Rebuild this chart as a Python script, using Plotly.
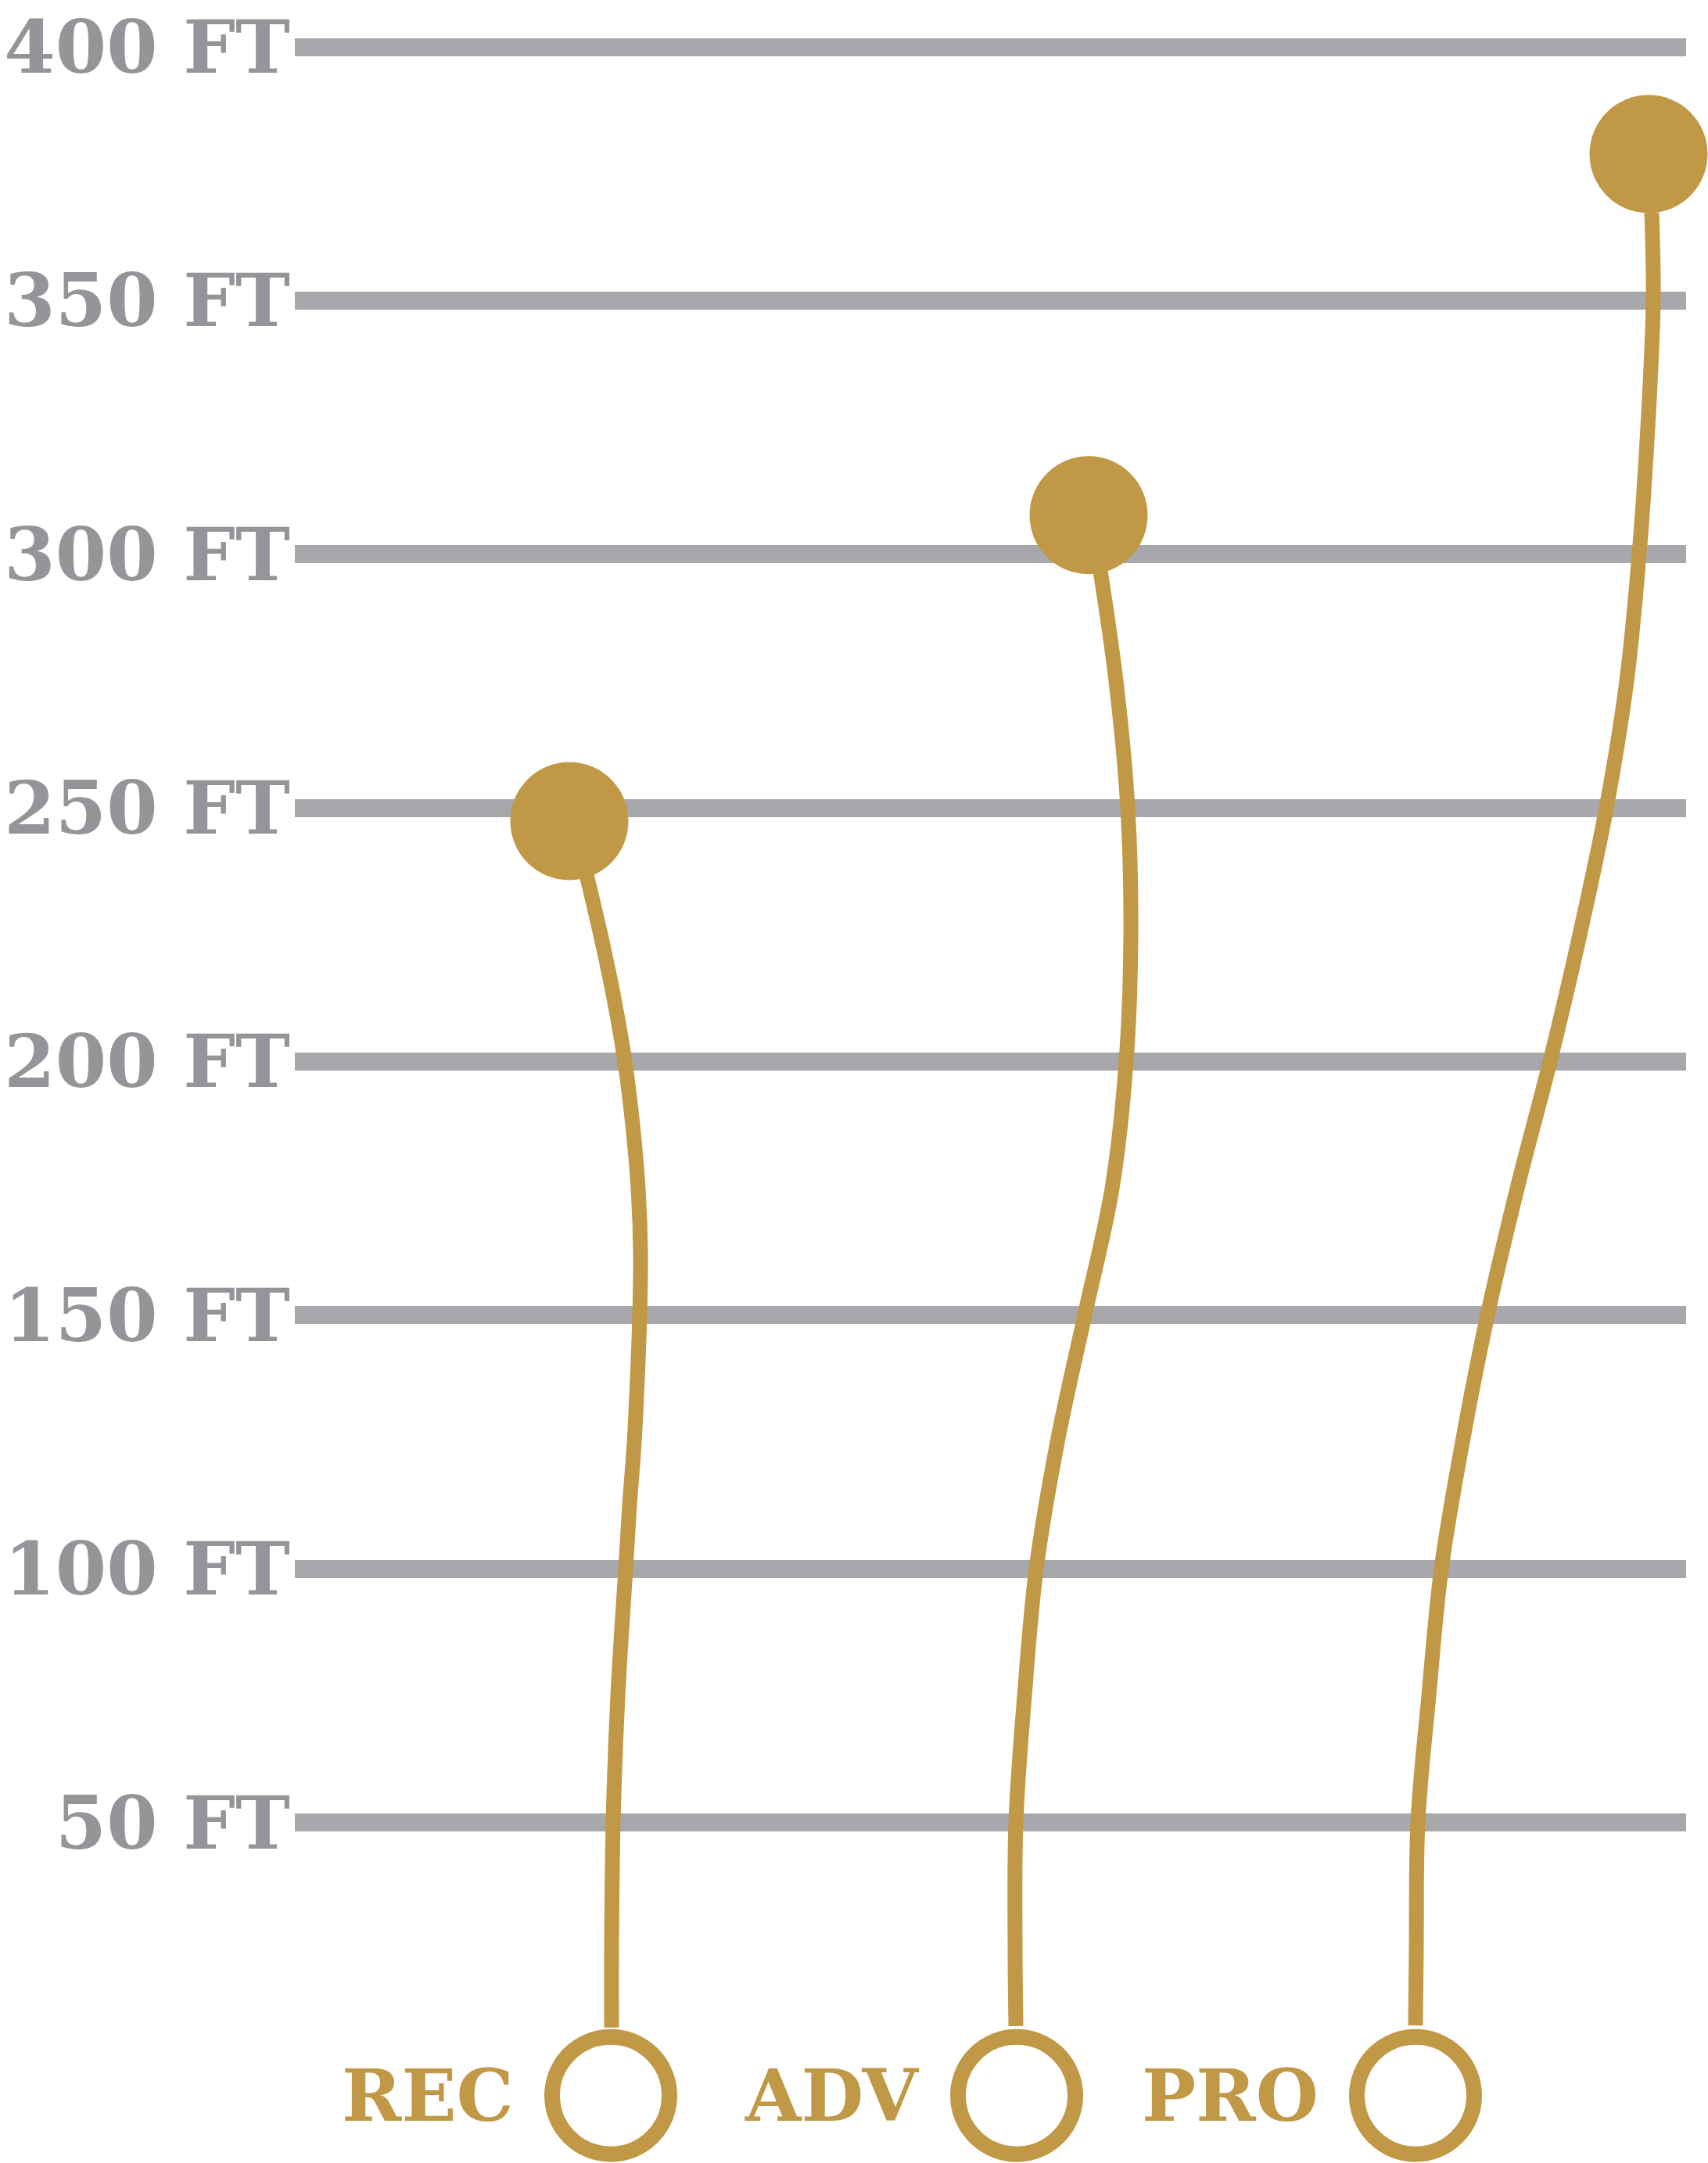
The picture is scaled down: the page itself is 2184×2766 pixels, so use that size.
import plotly.graph_objects as go

# ---- data ----
tick_vals = [50, 100, 150, 200, 250, 300, 350, 400]
tick_text = ["50 FT", "100 FT", "150 FT", "200 FT", "250 FT", "300 FT", "350 FT", "400 FT"]

levels = ["REC", "ADV", "PRO"]
start_x = [781, 1300, 1810]          # horizontal position of the open (start) circles
start_ft = [-3.8, -3.8, -3.8]
peak_x = [728, 1392, 2108]           # horizontal position of the filled (peak) circles
peak_ft = [247.4, 307.7, 378.9]

rec_path_x = [782, 782, 784, 790, 800, 805, 811, 815, 818, 819, 816, 809, 799, 785, 768, 750]
rec_path_ft = [9.6, 25, 50, 75, 100, 112.5, 125, 137.5, 150, 162.5, 175, 187.5, 200, 212.5, 225, 236.8]

adv_path_x = [1299, 1298, 1299, 1310, 1325, 1352, 1387, 1422, 1440, 1446, 1442, 1427, 1407]
adv_path_ft = [9.9, 25, 50, 75, 100, 125, 150, 175, 200, 225, 250, 275, 296.7]

pro_path_x = [1810, 1811, 1813, 1827, 1843, 1870, 1902, 1940, 1982, 2020, 2054, 2080, 2096, 2107, 2114, 2112]
pro_path_ft = [10, 25, 50, 75, 100, 125, 150, 175, 200, 225, 250, 275, 300, 325, 350, 367.3]

# ---- style ----
GOLD = "#C19845"
GRID = "#A7A8AC"
LABEL = "#939598"
W, H = 2184, 2766

fig = go.Figure()

for px, pft in [(rec_path_x, rec_path_ft), (adv_path_x, adv_path_ft), (pro_path_x, pro_path_ft)]:
    fig.add_trace(go.Scatter(
        x=px, y=pft, mode="lines",
        line=dict(color=GOLD, width=19, shape="spline", smoothing=1.0, simplify=False),
        hoverinfo="skip", showlegend=False, cliponaxis=False,
    ))

fig.add_trace(go.Scatter(
    x=start_x, y=start_ft, mode="markers",
    marker=dict(size=150, color="white", line=dict(color=GOLD, width=20)),
    showlegend=False, cliponaxis=False, hoverinfo="skip",
))
fig.add_trace(go.Scatter(
    x=peak_x, y=peak_ft, mode="markers",
    marker=dict(size=151, color=GOLD, line=dict(width=0)),
    showlegend=False, cliponaxis=False, hoverinfo="skip",
))

for name, sx, sft in zip(levels, start_x, start_ft):
    fig.add_annotation(
        x=sx, y=sft, text=name, showarrow=False,
        xanchor="right", yanchor="middle", xshift=-122,
        font=dict(family="DejaVu Serif", size=92, color=GOLD, weight="bold"),
    )

fig.update_layout(
    template="none",
    width=W, height=H,
    margin=dict(l=0, r=0, t=0, b=0, pad=0),
    paper_bgcolor="white", plot_bgcolor="white",
    xaxis=dict(
        range=[377, 2156], domain=[377 / W, 2156 / W], automargin=False,
        showgrid=False, zeroline=False, showticklabels=False, showline=False, ticks="",
    ),
    yaxis=dict(
        range=[-17.1, 409.25], domain=[0, 1], automargin=False,
        tickmode="array", tickvals=tick_vals, ticktext=tick_text,
        showgrid=True, gridcolor=GRID, gridwidth=23,
        zeroline=False, showline=False, ticks="",
        ticklabelstandoff=5,
        tickfont=dict(family="DejaVu Serif", size=94, color=LABEL, weight="bold"),
    ),
)

fig.write_html(
    "out.html",
    config={"displayModeBar": False},
    post_script="document.body.style.margin='0';document.body.style.overflow='hidden';",
)
